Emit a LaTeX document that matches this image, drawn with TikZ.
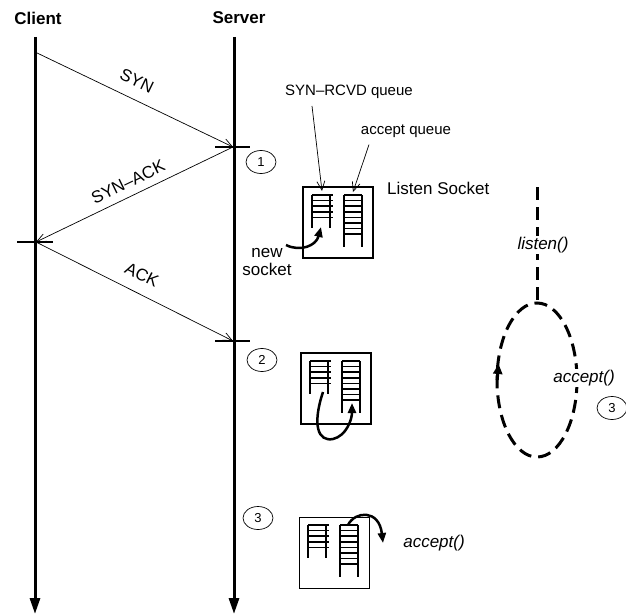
\documentclass[tikz,border=0pt]{standalone}
\usepackage{fontspec}
\setmainfont{Liberation Sans}
\usetikzlibrary{arrows.meta,shapes.geometric}
\newcommand{\myladders}[2]{%
  \begin{scope}[shift={(#1,#2)}, line width=1.5pt]
    \draw (9,8) -- (9,41) (27,8) -- (27,41);
    \foreach \k in {0,...,4} \draw (9,8+5.6*\k) -- (30,8+5.6*\k);
    \draw (41,8) -- (41,60) (59,8) -- (59,60);
    \foreach \k in {0,...,7} \draw (41,8+5.6*\k) -- (59,8+5.6*\k);
  \end{scope}}
\begin{document}
\begin{tikzpicture}[x=1pt,y=-1pt,
 life/.style={line width=3pt,-{Triangle[length=16pt,width=10pt]}},
 msg/.style={line width=0.7pt,-{Straight Barb[length=9pt,width=8pt]}},
 tickline/.style={line width=1.5pt},
 lbl/.style={font=\fontsize{17}{18}\selectfont, inner sep=0pt},
 smalllbl/.style={font=\fontsize{15}{17}\selectfont, inner sep=0pt},
 ital/.style={font=\fontsize{17}{19}\selectfont\itshape, inner sep=1pt},
 titlelbl/.style={font=\fontsize{17}{20}\selectfont\bfseries, inner sep=0pt},
 num/.style={ellipse, draw, line width=0.7pt, minimum width=30pt, minimum height=23pt, inner sep=0pt, font=\fontsize{13}{15}\selectfont},
 sock/.style={draw, line width=1.3pt, minimum width=70pt, minimum height=71pt, inner sep=0pt},
 curv/.style={line width=2.5pt, -{Triangle[length=10pt,width=8pt]}},
 dsh/.style={line width=3pt, dash pattern=on 13pt off 7pt},
]
\useasboundingbox (0,0) rectangle (626,615);

% titles
\node[titlelbl] (client) at (38,18) {Client};
\node[titlelbl] (server) at (239,18) {Server};

% lifelines
\coordinate (c0) at (35,37);
\coordinate (c1) at (35,614);
\coordinate (s0) at (234,37);
\coordinate (s1) at (234,614);
\draw[life] (c0) -- (c1);
\draw[life] (s0) -- (s1);

% message points
\coordinate (m1) at (35,52);
\coordinate (m2) at (233,147);
\coordinate (m3) at (36,242);
\coordinate (m4) at (233,341);
\draw[msg] (m1) -- (m2);
\draw[msg] (m2) -- (m3);
\draw[msg] (m3) -- (m4);

% ticks
\draw[tickline] (215,147) -- (250,147);
\draw[tickline] (17,242) -- (53,242);
\draw[tickline] (215,341) -- (250,341);

% message labels
\node[lbl, rotate=-25.7] (synl) at (137,81) {SYN};
\node[lbl, rotate=25.7] (synackl) at (128,182) {SYN--ACK};
\node[lbl, rotate=-26.4] (ackl) at (142,275) {ACK};

% numbered circles
\node[num] (n1) at (261,162) {1};
\node[num] (n2) at (262,360) {2};
\node[num] (n3) at (258,518) {3};
\node[num] (n3b) at (612,408) {3};

% socket boxes
\node[sock] (b1) at (338,222.5) {};
\myladders{303}{187}
\node[sock] (b2) at (336,388.5) {};
\myladders{301}{353}
\node[sock] (b3) at (334.5,553) {};
\myladders{299}{517}

% queue labels
\node[smalllbl] (rcvd) at (349,92) {SYN--RCVD queue};
\node[smalllbl] (accq) at (406,131) {accept queue};
\coordinate (q1) at (322,191);
\coordinate (q2) at (353,192);
\draw[msg] ([xshift=-37pt,yshift=-7pt]rcvd.south) -- (q1);
\draw[msg] ([xshift=-37pt,yshift=-7pt]accq.south) -- (q2);

\node[lbl, anchor=west] (listen) at (387,188) {Listen Socket};
\node[lbl, align=center] (newsock) at (267,262) {new\\socket};

% curved arrows
\draw[curv] (286,245) .. controls (300,252) and (316,246) .. (321,227);
\draw[curv] (323,392) .. controls (312,425) and (318,442) .. (333,439) .. controls (346,436) and (352,420) .. (352,403);
\draw[curv] (348,525) .. controls (355,511) and (379,509) .. (383,543);
\node[ital] (acc1) at (434,543) {accept()};

% dashed lifecycle
\coordinate (d0) at (537,187);
\coordinate (d1) at (537,303);
\draw[dsh] (d0) -- (d1);
\node[ital, fill=white] (lis) at (543,245) {listen()};
\draw[dsh] (537,380) ellipse [x radius=40, y radius=77];
\draw[line width=3pt,-{Triangle[length=10pt,width=9pt]}] (497.2,380) -- (498.6,364);
\node[ital, fill=white] (acc2) at (584,378) {accept()};
\end{tikzpicture}
\end{document}
